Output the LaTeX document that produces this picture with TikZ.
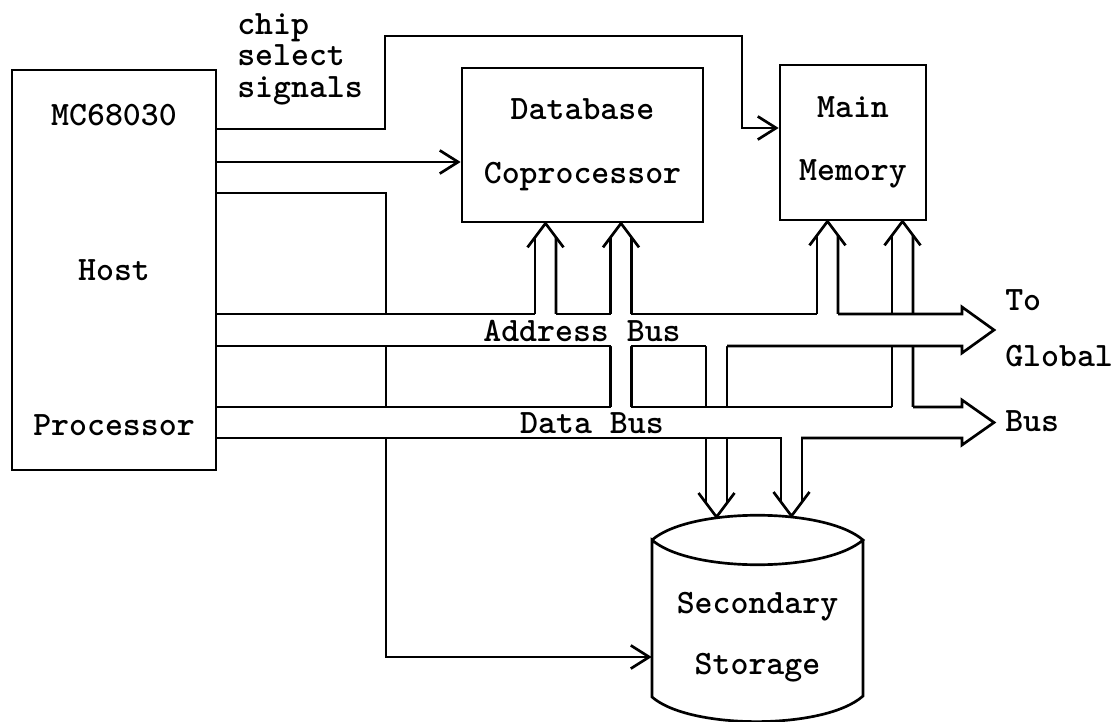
\documentclass[tikz,border=0pt]{standalone}
\usepackage{fontspec}
\usetikzlibrary{arrows.meta, calc}
\newcommand{\letra}{\fontsize{24.3}{22.5}\selectfont\ttfamily\bfseries}
\tikzset{
  bloque/.style={rectangle, draw, line width=1.9pt, inner sep=0pt, align=center, font=\letra},
  rotulo/.style={inner sep=0pt, align=left, font=\letra},
  linea/.style={line width=1.9pt},
  arrow/.style={line width=1.9pt, -{Straight Barb[length=4.6mm, width=5.8mm]}},
  fondobus/.style={fill=white, draw=none}
}

\begin{document}
\begin{tikzpicture}[x=0.025cm, y=-0.025cm]
  \useasboundingbox (0,0) rectangle (1119,722);
  \node (host) [bloque, minimum width=5.1cm, minimum height=10cm] at (114,270)
        {MC68030\\[3.09cm]Host\hspace*{0.5cm}\\[3.09cm]Processor};
  \node (db) [bloque, minimum width=6.025cm, minimum height=3.85cm] at (582.5,145)
        {Database\\[0.81cm]Coprocessor};
  \node (mm) [bloque, minimum width=3.65cm, minimum height=3.875cm] at (853,142.5)
        {Main\\[0.79cm]Memory};
  \node (stor) [rotulo, align=center, minimum width=5.275cm] at (757.5,637.5)
        {Secondary\\[0.73cm]Storage};
  \node (chip) [rotulo, anchor=north west] at (237,13) {chip\\select\\signals};
  \node (glob) [rotulo, anchor=north west] at (1005,289) {To\\[0.61cm]Global\\[0.84cm]Bus};

  \draw [linea] (652,540) .. controls (690,507) and (825,507) .. (863,540)
        .. controls (825,573) and (690,573) .. (652,540) -- (652,697)
        .. controls (690,730) and (825,730) .. (863,696) -- (863,540);

  \draw [arrow] (host.east |- 0,129) -| (385,36) -| (742,128) -- (mm.west |- 0,128);
  \draw [arrow] (host.east |- 0,162) -- (db.west |- 0,162);
  \draw [arrow] (host.east |- 0,193) -| (386,657) -- (stor.west |- 0,657);

  \foreach \nd/\cx/\by in {db/545.5/314, db/621/407, mm/827.5/314, mm/902.5/407} {
    \coordinate (punta) at (\nd.south -| \cx,0);
    \draw [linea] (\cx-10.5,\by) -- ($(punta)+(-10.5,14)$);
    \draw [linea] (\cx+10.5,\by) -- ($(punta)+(10.5,14)$);
    \draw [linea] ($(punta)+(-18,24)$) -- (punta) -- ($(punta)+(18,24)$);
  }
  \foreach \cx/\by/\ty in {716.5/346/517, 791.5/438/516} {
    \coordinate (punta) at (\cx,\ty);
    \draw [linea] (\cx-10.5,\by) -- (\cx-10.5,\ty-14);
    \draw [linea] (\cx+10.5,\by) -- (\cx+10.5,\ty-14);
    \draw [linea] ($(punta)+(-18,-24)$) -- (punta) -- ($(punta)+(18,-24)$);
  }

  \fill [fondobus] (218,314) -- (962,314) -- (962,307) -- (994,330) -- (962,353)
        -- (962,346) -- (218,346) -- cycle;
  \fill [fondobus] (218,407) -- (962,407) -- (962,400) -- (994,422.5) -- (962,445)
        -- (962,438) -- (218,438) -- cycle;

  \draw [linea] (host.east |- 0,314) -- (535,314);
  \draw [linea] (556,314) -- (611,314);
  \draw [linea] (631,314) -- (817,314);
  \draw [linea] (838,314) -- (962,314) -- (962,307) -- (994,330) -- (962,353)
        -- (962,346) -- (727,346);
  \draw [linea] (706,346) -- (631,346);
  \draw [linea] (611,346) -- (host.east |- 0,346);
  \draw [linea] (host.east |- 0,407) -- (611,407);
  \draw [linea] (631,407) -- (892,407);
  \draw [linea] (913,407) -- (962,407) -- (962,400) -- (994,422.5) -- (962,445)
        -- (962,438) -- (801,438);
  \draw [linea] (782,438) -- (host.east |- 0,438);

  \node (adbus) [rotulo] at (582,331) {Address Bus};
  \node (dabus) [rotulo] at (592,423) {Data Bus};
\end{tikzpicture}
\end{document}
